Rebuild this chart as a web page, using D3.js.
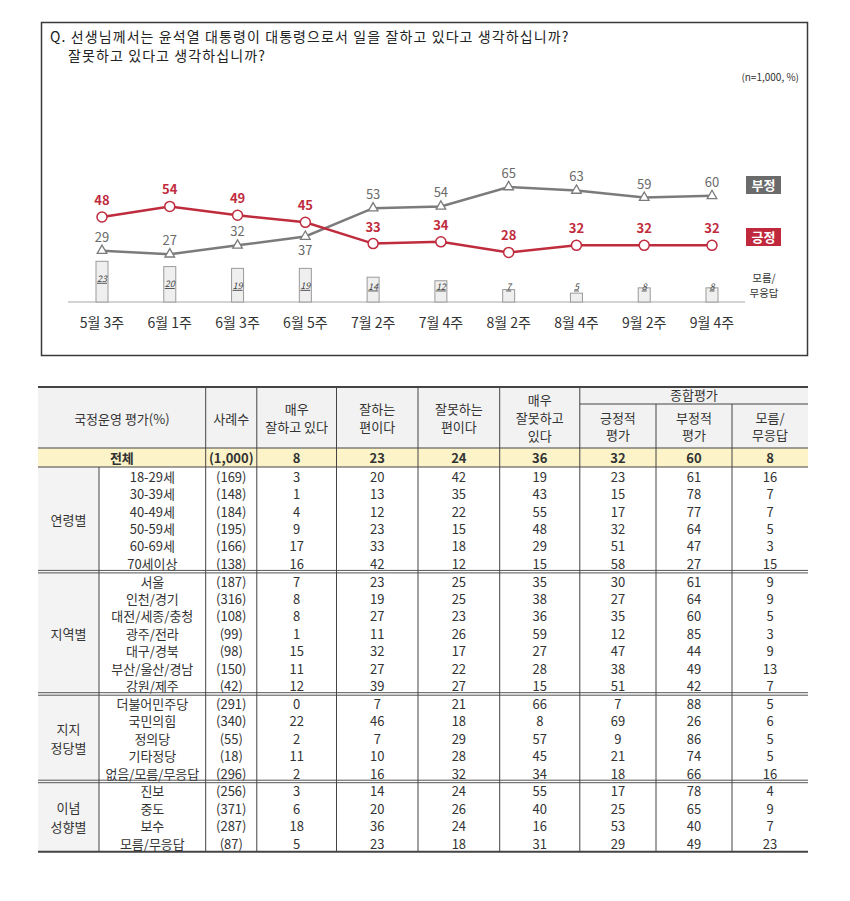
<!DOCTYPE html>
<html><head><meta charset="utf-8">
<script src="https://cdn.jsdelivr.net/npm/d3@7"></script>
<style>
html,body{margin:0;padding:0;background:#fff;}
svg{display:block;font-family:"Noto Sans CJK KR","Noto Sans",sans-serif;}
</style></head>
<body><svg id="c" width="850" height="901"></svg>
<script>
// ---------- chart data ----------
const weeks = ["5월 3주","6월 1주","6월 3주","6월 5주","7월 2주","7월 4주","8월 2주","8월 4주","9월 2주","9월 4주"];
const positive = [48,54,49,45,33,34,28,32,32,32];
const negative = [29,27,32,37,53,54,65,63,59,60];
const dontKnow = [23,20,19,19,14,12,7,5,8,8];
const titleLines = ["Q. 선생님께서는 윤석열 대통령이 대통령으로서 일을 잘하고 있다고 생각하십니까?","잘못하고 있다고 생각하십니까?"];
const sampleNote = "(n=1,000, %)";
const legendLabels = ["부정","긍정"];
const dkLabel = ["모름/","무응답"];

// ---------- table data ----------
const headerCols = [["매우","잘하고 있다"],["잘하는","편이다"],["잘못하는","편이다"],["매우","잘못하고","있다"],["긍정적","평가"],["부정적","평가"],["모름/","무응답"]];
const totalRow = {label:"전체", n:"1,000", values:[8,23,24,36,32,60,8]};
const groupNames = [["연령별"],["지역별"],["지지","정당별"],["이념","성향별"]];
const ageLabels = ["18-29세","30-39세","40-49세","50-59세","60-69세","70세이상"];
const ageN = [169,148,184,195,166,138];
const ageValues = [[3,20,42,19,23,61,16],[1,13,35,43,15,78,7],[4,12,22,55,17,77,7],[9,23,15,48,32,64,5],[17,33,18,29,51,47,3],[16,42,12,15,58,27,15]];
const regionLabels = ["서울","인천/경기","대전/세종/충청","광주/전라","대구/경북","부산/울산/경남","강원/제주"];
const regionN = [187,316,108,99,98,150,42];
const regionValues = [[7,23,25,35,30,61,9],[8,19,25,38,27,64,9],[8,27,23,36,35,60,5],[1,11,26,59,12,85,3],[15,32,17,27,47,44,9],[11,27,22,28,38,49,13],[12,39,27,15,51,42,7]];
const partyLabels = ["더불어민주당","국민의힘","정의당","기타정당","없음/모름/무응답"];
const partyN = [291,340,55,18,296];
const partyValues = [[0,7,21,66,7,88,5],[22,46,18,8,69,26,6],[2,7,29,57,9,86,5],[11,10,28,45,21,74,5],[2,16,32,34,18,66,16]];
const ideoLabels = ["진보","중도","보수","모름/무응답"];
const ideoN = [256,371,287,87];
const ideoValues = [[3,14,24,55,17,78,4],[6,20,26,40,25,65,9],[18,36,24,16,53,40,7],[5,23,18,31,29,49,23]];

const svg = d3.select("#c");
const RED = "#bf2c3e", GRAY = "#7b7b7b";

// ---------- chart frame ----------
svg.append("rect").attr("x",41.5).attr("y",22.5).attr("width",766).attr("height",333)
  .attr("fill","#fff").attr("stroke","#3a3a3a").attr("stroke-width",1.5);
svg.append("g").selectAll("text").data(titleLines).join("text")
  .attr("x",(d,i)=>i?68:50).attr("y",(d,i)=>42+i*19)
  .attr("font-size",14).attr("letter-spacing",1.1).attr("fill","#222").text(d=>d);
svg.append("text").attr("x",799).attr("y",81).attr("text-anchor","end")
  .attr("font-size",10).attr("fill","#333").text(sampleNote);

const x = d3.scalePoint().domain(weeks).range([102,712]);
const y = d3.scaleLinear().domain([0,100]).range([302,125]);

// axis baseline
svg.append("line").attr("x1",68).attr("x2",745).attr("y1",y(0)).attr("y2",y(0))
  .attr("stroke","#d3d3d3").attr("stroke-width",2);

// bars
const bw = 12;
svg.append("g").selectAll("rect").data(dontKnow).join("rect")
  .attr("x",(d,i)=>x(weeks[i])-bw/2).attr("width",bw)
  .attr("y",d=>y(d)).attr("height",d=>y(0)-y(d))
  .attr("fill","#efefef").attr("stroke","#9a9a9a").attr("stroke-width",1);
svg.append("g").selectAll("text").data(dontKnow).join("text")
  .attr("x",(d,i)=>x(weeks[i])).attr("y",d=>Math.min(y(d)+17,286)+3.5)
  .attr("text-anchor","middle").attr("font-size",9).attr("font-style","italic")
  .attr("text-decoration","underline").attr("fill","#444").text(d=>d);

// x labels
svg.append("g").selectAll("text").data(weeks).join("text")
  .attr("x",d=>x(d)).attr("y",328).attr("text-anchor","middle")
  .attr("font-size",14).attr("fill","#333").text(d=>d);

// lines
const lineGen = d3.line().x((d,i)=>x(weeks[i])).y(d=>y(d));
svg.append("path").datum(negative).attr("d",lineGen).attr("fill","none")
  .attr("stroke",GRAY).attr("stroke-width",2.5);
svg.append("path").datum(positive).attr("d",lineGen).attr("fill","none")
  .attr("stroke",RED).attr("stroke-width",2.5);

// markers
svg.append("g").selectAll("path").data(negative).join("path")
  .attr("transform",(d,i)=>`translate(${x(weeks[i])},${y(d)})`)
  .attr("d",d3.symbol(d3.symbolTriangle,40))
  .attr("fill","#fff").attr("stroke",GRAY).attr("stroke-width",1.3);
svg.append("g").selectAll("circle").data(positive).join("circle")
  .attr("cx",(d,i)=>x(weeks[i])).attr("cy",d=>y(d)).attr("r",5)
  .attr("fill","#fff").attr("stroke",RED).attr("stroke-width",1.5);

// value labels
svg.append("g").selectAll("text").data(positive).join("text")
  .attr("x",(d,i)=>x(weeks[i])).attr("y",d=>y(d)-17+5)
  .attr("text-anchor","middle").attr("font-size",13).attr("font-weight","bold")
  .attr("fill",RED).text(d=>d);
svg.append("g").selectAll("text").data(negative).join("text")
  .attr("x",(d,i)=>x(weeks[i]))
  .attr("y",(d,i)=>{const below = d<positive[i] && positive[i]-d<10; return below? y(d)+13+5 : y(d)-14+5;})
  .attr("text-anchor","middle").attr("font-size",13)
  .attr("fill","#6a6a6a").text(d=>d);

// legend
const legendY = [176,228];
const legendFill = ["#6b6b6b","#c0283c"];
legendLabels.forEach((l,i)=>{
  svg.append("rect").attr("x",746).attr("y",legendY[i]).attr("width",35).attr("height",18).attr("fill",legendFill[i]);
  svg.append("text").attr("x",763.5).attr("y",legendY[i]+13.5).attr("text-anchor","middle")
    .attr("font-size",13).attr("font-weight","bold").attr("fill","#fff").text(l);
});
svg.append("g").selectAll("text").data(dkLabel).join("text")
  .attr("x",764).attr("y",(d,i)=>282+i*15).attr("text-anchor","middle")
  .attr("font-size",10.5).attr("fill","#333").text(d=>d);

// ---------- table ----------
const colX = [38,99,205.7,256.8,336.5,418,499.7,579.8,656,732,808];
const tTop = 387, hMid = 404, hBot = 448, totBot = 467, rowH = 17.4, secGap = 0.5;
const sections = [
  {name:groupNames[0], labels:ageLabels, n:ageN, vals:ageValues},
  {name:groupNames[1], labels:regionLabels, n:regionN, vals:regionValues},
  {name:groupNames[2], labels:partyLabels, n:partyN, vals:partyValues},
  {name:groupNames[3], labels:ideoLabels, n:ideoN, vals:ideoValues}
];
let cy = totBot;
sections.forEach(s=>{ s.top = cy; s.bot = cy + s.labels.length*rowH + secGap; cy = s.bot; });
const tBot = cy;

const T = svg.append("g").attr("font-size",13).attr("fill","#333");
T.append("rect").attr("x",colX[0]).attr("y",tTop).attr("width",colX[10]-colX[0]).attr("height",hBot-tTop).attr("fill","#f2f2f2");
T.append("rect").attr("x",colX[0]).attr("y",hBot).attr("width",colX[10]-colX[0]).attr("height",totBot-hBot).attr("fill","#fcf3c8");
T.append("rect").attr("x",colX[0]).attr("y",totBot).attr("width",colX[1]-colX[0]).attr("height",tBot-totBot).attr("fill","#f3f3f3");

const mid = i => (colX[i]+colX[i+1])/2;
function txt(xp, yp, t, bold){
  T.append("text").attr("x",xp).attr("y",yp).attr("text-anchor","middle")
   .attr("dominant-baseline","central").attr("font-weight",bold?"bold":"normal").attr("fill","#333").text(t);
}
// header
txt((colX[0]+colX[2])/2, 418, "국정운영 평가(%)");
txt(mid(2), 418, "사례수");
txt((colX[7]+colX[10])/2, 394, "종합평가");
headerCols.forEach((lines,k)=>{
  const ci = k+3;
  const cyc = k>=4 ? (hMid+hBot)/2 : (tTop+hBot)/2;
  const lh = 17.6;
  lines.forEach((l,j)=> txt(mid(ci), cyc + (j-(lines.length-1)/2)*lh, l));
});
// total row
const totY = (hBot+totBot)/2;
txt((colX[0]+colX[2])/2, totY, totalRow.label, true);
txt(mid(2), totY, "("+totalRow.n+")", true);
totalRow.values.forEach((v,k)=> txt(mid(k+3), totY, v, true));
// sections
sections.forEach(s=>{
  const gy = (s.top+s.bot)/2;
  s.name.forEach((l,j)=> txt(mid(0), gy + (j-(s.name.length-1)/2)*19, l));
  s.labels.forEach((l,r)=>{
    const ry = s.top + secGap + rowH*(r+0.5);
    txt(mid(1), ry, l);
    txt(mid(2), ry, "("+s.n[r]+")");
    s.vals[r].forEach((v,k)=> txt(mid(k+3), ry, v));
  });
});

// lines
const L = svg.append("g");
function hl(x1,x2,yy,w,c){ L.append("line").attr("x1",x1).attr("x2",x2).attr("y1",yy).attr("y2",yy).attr("stroke",c||"#333").attr("stroke-width",w); }
function vl(xx,y1,y2){ L.append("line").attr("x1",xx).attr("x2",xx).attr("y1",y1).attr("y2",y2).attr("stroke","#444").attr("stroke-width",1); }
hl(colX[0],colX[10],tTop,2,"#444");
hl(colX[7],colX[10],hMid,1,"#444");
hl(colX[0],colX[10],hBot,1,"#444");
hl(colX[0],colX[10],totBot,1.2,"#444");
sections.slice(0,-1).forEach(s=>{ hl(colX[0],colX[10],s.bot-1.5,1,"#555"); hl(colX[0],colX[10],s.bot+1,1,"#555"); });
hl(colX[0],colX[10],tBot,2,"#444");
[2,3,4,5,6,7].forEach(i=>vl(colX[i],tTop,tBot));
[8,9].forEach(i=>vl(colX[i],hMid,tBot));
vl(colX[1],totBot,tBot);
</script></body></html>
